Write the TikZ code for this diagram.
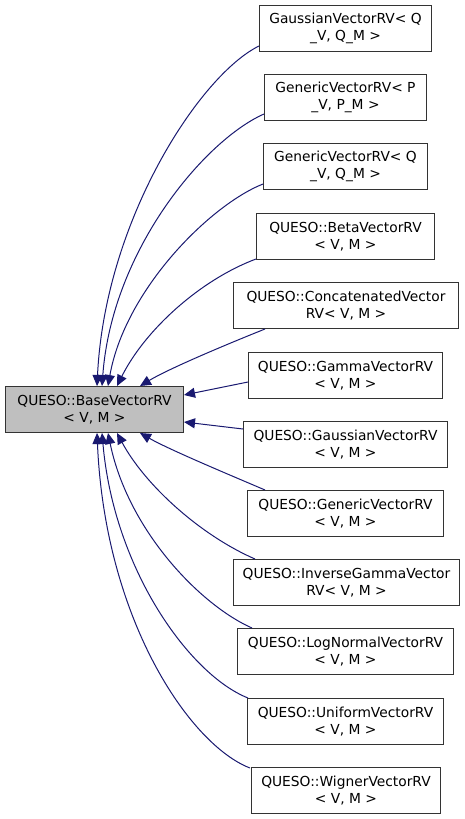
\documentclass[tikz,border=0pt]{standalone}
\usepackage{fontspec}
\setmainfont{DejaVu Sans}
\usetikzlibrary{arrows.meta,calc}
\definecolor{edgecol}{HTML}{191970}
\definecolor{basefill}{HTML}{BFBFBF}
\begin{document}
\begin{tikzpicture}[x=1pt,y=-1pt,
  cls/.style={draw=black!80, line width=1pt, fill=white, align=center,
    font=\fontsize{13.8}{16.5}\selectfont, inner sep=0pt, anchor=north west, minimum height=46pt},
  edge/.style={draw=edgecol, line width=1pt, -{Triangle[length=11pt,width=10pt]}}]
\useasboundingbox (0,0) rectangle (464,819);
\node[cls, fill=basefill, minimum width=178pt] (base) at (5,386) {QUESO::BaseVectorRV\\< V, M >};
\node[cls, minimum width=172pt] (c1) at (259,5) {GaussianVectorRV< Q\\\_V, Q\_M >};
\node[cls, minimum width=162pt] (c2) at (264,74) {GenericVectorRV< P\\\_V, P\_M >};
\node[cls, minimum width=164pt] (c3) at (263,143) {GenericVectorRV< Q\\\_V, Q\_M >};
\node[cls, minimum width=178pt] (c4) at (256,213) {QUESO::BetaVectorRV\\< V, M >};
\node[cls, minimum width=225pt] (c5) at (233,282) {QUESO::ConcatenatedVector\\RV< V, M >};
\node[cls, minimum width=194pt] (c6) at (248,352) {QUESO::GammaVectorRV\\< V, M >};
\node[cls, minimum width=204pt] (c7) at (243,421) {QUESO::GaussianVectorRV\\< V, M >};
\node[cls, minimum width=196pt] (c8) at (247,490) {QUESO::GenericVectorRV\\< V, M >};
\node[cls, minimum width=226pt] (c9) at (233,559) {QUESO::InverseGammaVector\\RV< V, M >};
\node[cls, minimum width=216pt] (c10) at (237,628) {QUESO::LogNormalVectorRV\\< V, M >};
\node[cls, minimum width=196pt] (c11) at (247,698) {QUESO::UniformVectorRV\\< V, M >};
\node[cls, minimum width=189pt] (c12) at (251,767) {QUESO::WignerVectorRV\\< V, M >};

\draw[edge] ($(c1.south west)+(0,-6)$) .. controls (200,75) and (105,220) .. ($(base.north west)+(92,0)$);
\draw[edge] ($(c2.south west)+(0,-7)$) .. controls (205,140) and (112,250) .. ($(base.north west)+(97,0)$);
\draw[edge] ($(c3.south west)+(0,-6)$) .. controls (210,205) and (125,290) .. ($(base.north west)+(103,0)$);
\draw[edge] ($(c4.south west)+(0,-1)$) .. controls (200,280) and (145,330) .. ($(base.north west)+(112,0)$);
\draw[edge] ($(c5.south west)+(32,0)$) .. controls (230,343) and (170,368) .. ($(base.north west)+(135,0)$);
\draw[edge] ($(c6.north west)+(0,30)$) -- ($(base.north east)+(0,9)$);
\draw[edge] ($(c7.north west)+(0,8)$) -- ($(base.north east)+(0,36)$);
\draw[edge] ($(c8.north west)+(18,0)$) .. controls (230,475) and (170,450) .. ($(base.south west)+(135,0)$);
\draw[edge] ($(c9.north west)+(22,0)$) .. controls (200,535) and (145,485) .. ($(base.south west)+(112,0)$);
\draw[edge] ($(c10.north west)+(15,0)$) .. controls (200,605) and (128,530) .. ($(base.south west)+(103,0)$);
\draw[edge] ($(c11.north west)+(1,0)$) .. controls (190,675) and (114,570) .. ($(base.south west)+(97,0)$);
\draw[edge] ($(c12.north west)+(-1,1)$) .. controls (190,745) and (105,620) .. ($(base.south west)+(92,0)$);
\end{tikzpicture}
\end{document}
